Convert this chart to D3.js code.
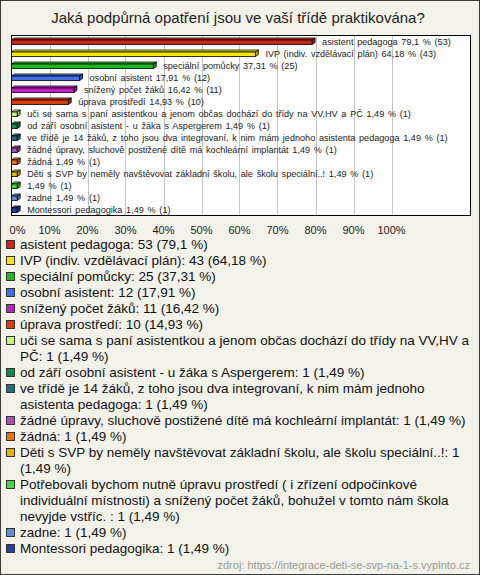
<!DOCTYPE html>
<html>
<head>
<meta charset="utf-8">
<script src="https://cdn.jsdelivr.net/npm/d3@7"></script>
<style>
  html, body { margin: 0; padding: 0; background: #f3f2ea; }
  svg { display: block; }
  text { font-family: "Liberation Sans", Arial, sans-serif; }
</style>
</head>
<body>
<svg id="chart" width="480" height="575"></svg>
<script>
const title = "Jaká podpůrná opatření jsou ve vaší třídě praktikována?";
const barNames = [
  "asistent pedagoga",
  "IVP (indiv. vzdělávací plán)",
  "speciální pomůcky",
  "osobní asistent",
  "snížený počet žáků",
  "úprava prostředí",
  "uči se sama s paní asistentkou a jenom občas dochází do třídy na VV,HV a PČ",
  "od září osobní asistent - u žáka s Aspergerem",
  "ve třídě je 14 žáků, z toho jsou dva integrovaní, k nim mám jednoho asistenta pedagoga",
  "žádné úpravy, sluchově postižené dítě má kochleární implantát",
  "žádná",
  "Děti s SVP by neměly navštěvovat základní školu, ale školu speciální..!",
  "",
  "zadne",
  "Montessori pedagogika"
];
const legendNames = [
  "asistent pedagoga",
  "IVP (indiv. vzdělávací plán)",
  "speciální pomůcky",
  "osobní asistent",
  "snížený počet žáků",
  "úprava prostředí",
  "uči se sama s paní asistentkou a jenom občas dochází do třídy na VV,HV a PČ",
  "od září osobní asistent - u žáka s Aspergerem",
  "ve třídě je 14 žáků, z toho jsou dva integrovaní, k nim mám jednoho asistenta pedagoga",
  "žádné úpravy, sluchově postižené dítě má kochleární implantát",
  "žádná",
  "Děti s SVP by neměly navštěvovat základní školu, ale školu speciální..!",
  "Potřebovali bychom nutně úpravu prostředí ( i zřízení odpočinkové individuální místnosti) a snížený počet žáků, bohužel v tomto nám škola nevyjde vstříc. ",
  "zadne",
  "Montessori pedagogika"
];
const counts = [53, 43, 25, 12, 11, 10, 1, 1, 1, 1, 1, 1, 1, 1, 1];
const percents = [79.1, 64.18, 37.31, 17.91, 16.42, 14.93, 1.49, 1.49, 1.49, 1.49, 1.49, 1.49, 1.49, 1.49, 1.49];
const colors = ["#c42a14", "#f6e60a", "#1fb81f", "#3f6fe6", "#c21fc6", "#dc3e0e",
  "#c8f57a", "#0f8a4e", "#1f6f86", "#b04cb8", "#e8720e", "#e8b00c", "#3fd83f", "#5f8ad8", "#2440a0"];
const xTicks = [0, 10, 20, 30, 40, 50, 60, 70, 80, 90, 100];
const source = "zdroj: https://integrace-deti-se-svp-na-1-s.vyplnto.cz";

const fmt = v => String(v).replace(".", ",");
const svg = d3.select("#chart");
const W = 480, H = 575;

svg.append("rect").attr("x", 0.5).attr("y", 0.5).attr("width", W - 1).attr("height", H - 1)
  .attr("fill", "#f3f2ea").attr("stroke", "#3a3a3a");

svg.append("text").attr("x", 238).attr("y", 23).attr("text-anchor", "middle")
  .attr("font-size", 15).attr("fill", "#222").text(title);

const plot = { x: 11, y: 35, w: 459, h: 180 };
const x = d3.scaleLinear().domain([0, 100]).range([11.5, 391.5]);
const y = d3.scaleBand().domain(d3.range(percents.length)).range([plot.y, plot.y + plot.h]);

svg.append("rect").attr("x", plot.x + 0.5).attr("y", plot.y + 0.5).attr("width", plot.w).attr("height", plot.h)
  .attr("fill", "#fff").attr("stroke", "none");

svg.append("g").selectAll("line").data(xTicks.filter(t => t > 0)).join("line")
  .attr("x1", d => Math.round(x(d)) + 0.5).attr("x2", d => Math.round(x(d)) + 0.5)
  .attr("y1", plot.y).attr("y2", plot.y + plot.h)
  .attr("stroke", "#c4c4c4").attr("stroke-width", 1);

svg.append("rect").attr("x", plot.x + 0.5).attr("y", plot.y + 0.5).attr("width", plot.w).attr("height", plot.h)
  .attr("fill", "none").attr("stroke", "#000");

const dx = 3, dy = 2;
const bars = svg.append("g").selectAll("g").data(percents).join("g");
bars.each(function(p, i) {
  const g = d3.select(this);
  const c = y(i) + y.bandwidth() / 2 + 1;
  const x0 = x(0), x1 = x(p);
  const top = c - 2, bot = c + 2.5;
  const col = d3.color(colors[i]);
  g.append("path")
    .attr("d", `M${x0},${top}L${x0 + dx},${top - dy}L${x1 + dx},${top - dy}L${x1},${top}Z`)
    .attr("fill", col.brighter(0.5)).attr("stroke", "#000").attr("stroke-width", 0.8);
  g.append("path")
    .attr("d", `M${x1},${top}L${x1 + dx},${top - dy}L${x1 + dx},${bot - dy}L${x1},${bot}Z`)
    .attr("fill", col.darker(0.8)).attr("stroke", "#000").attr("stroke-width", 0.8);
  g.append("rect").attr("x", x0).attr("y", top).attr("width", x1 - x0).attr("height", bot - top)
    .attr("fill", col).attr("stroke", "#000").attr("stroke-width", 0.8);
  g.append("text").attr("x", x1 + 10).attr("y", c + 2.5)
    .attr("font-size", 9.1).attr("word-spacing", 1.2).attr("fill", "#222")
    .text((barNames[i] ? barNames[i] + " " : "") + fmt(p) + " % (" + counts[i] + ")");
});

svg.append("g").selectAll("text").data(xTicks).join("text")
  .attr("x", d => d === 0 ? x(d) + 6 : x(d))
  .attr("y", 234).attr("text-anchor", "middle")
  .attr("font-size", 11).attr("fill", "#222")
  .text(d => d + "%");

// legend
const lg = svg.append("g");
const lineH = 16, maxW = 450, tx = 20, fs = 13.5;
let ly = 249;
legendNames.forEach((name, i) => {
  const full = name + ": " + counts[i] + " (" + fmt(percents[i]) + " %)";
  lg.append("rect").attr("x", 6.5).attr("y", ly - 8.5).attr("width", 8).attr("height", 8)
    .attr("fill", colors[i]).attr("stroke", "#333");
  const words = full.split(" ");
  let t = lg.append("text").attr("x", tx).attr("y", ly).attr("font-size", fs).attr("fill", "#111");
  let line = [];
  words.forEach(w => {
    line.push(w);
    t.text(line.join(" "));
    if (t.node().getComputedTextLength() > maxW && line.length > 1) {
      line.pop();
      t.text(line.join(" "));
      ly += lineH;
      line = [w];
      t = lg.append("text").attr("x", tx).attr("y", ly).attr("font-size", fs).attr("fill", "#111").text(w);
    }
  });
  ly += lineH;
});

svg.append("text").attr("x", 470).attr("y", 569).attr("text-anchor", "end")
  .attr("font-size", 11).attr("fill", "#999").text(source);
</script>
</body>
</html>
